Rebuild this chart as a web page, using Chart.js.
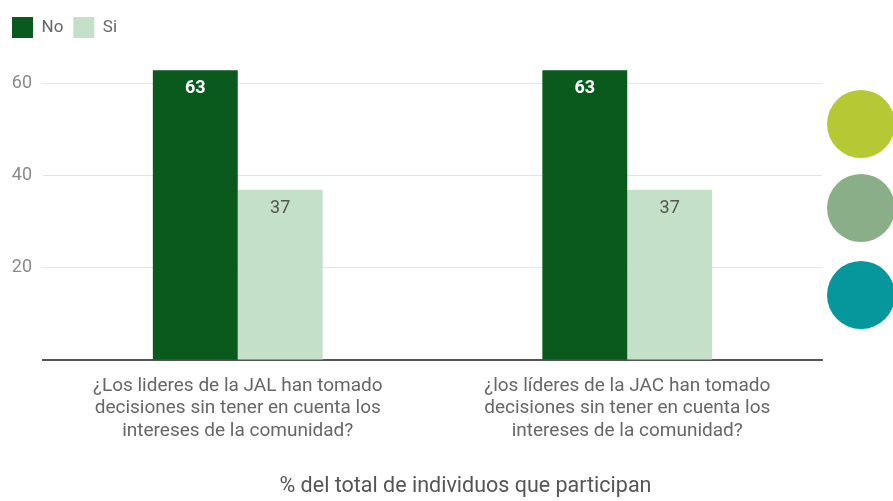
<!DOCTYPE html>
<html>
<head>
<meta charset="utf-8">
<script src="https://cdn.jsdelivr.net/npm/chart.js@4"></script>
<style>
  html, body { margin: 0; padding: 0; background: #fff; }
  #wrap { position: relative; width: 893px; height: 501px; overflow: hidden; }
  canvas { position: absolute; left: 0; top: 0; }
  .dot { position: absolute; width: 68px; height: 68px; border-radius: 50%; }
</style>
</head>
<body>
<div id="wrap">
  <canvas id="c" width="893" height="501"></canvas>
  <div class="dot" style="left:827px;top:90px;background:#b6c833;"></div>
  <div class="dot" style="left:827px;top:174px;background:#8aaf88;"></div>
  <div class="dot" style="left:827px;top:261px;background:#06979c;"></div>
</div>
<script>
const categories = [
  ["¿Los lideres de la JAL han tomado", "decisiones sin tener en cuenta los", "intereses de la comunidad?"],
  ["¿los líderes de la JAC han tomado", "decisiones sin tener en cuenta los", "intereses de la comunidad?"]
];
const seriesNames = ["No", "Si"];
const noValues = [63, 63];
const siValues = [37, 37];
const yTicks = [0, 20, 40, 60];
const axisTitle = "% del total de individuos que participan";

const labelPlugin = {
  id: 'barLabels',
  afterDatasetsDraw(chart) {
    const ctx = chart.ctx;
    chart.data.datasets.forEach((ds, di) => {
      const meta = chart.getDatasetMeta(di);
      meta.data.forEach((bar, i) => {
        ctx.save();
        ctx.textAlign = 'center';
        ctx.textBaseline = 'middle';
        if (di === 0) {
          ctx.fillStyle = '#ffffff';
          ctx.font = 'bold 18px Roboto';
          ctx.fillText(String(ds.data[i]), bar.x, bar.y + 18);
        } else {
          ctx.fillStyle = '#555555';
          ctx.font = '18px Roboto';
          ctx.fillText(String(ds.data[i]), bar.x, bar.y + 19);
        }
        ctx.restore();
      });
    });
  }
};

const legendSpace = {
  id: 'legendSpace',
  beforeInit(chart) {
    const orig = chart.legend.fit;
    chart.legend.fit = function() { orig.call(this); this.height = 54; };
  },
  afterLayout(chart) {
    const s = chart.scales.x;
    if (s && !s._titleShifted) {
      const orig = s.drawTitle;
      s.drawTitle = function(area) {
        const ctx = this.ctx;
        ctx.save();
        ctx.translate(33, 0);
        orig.call(this, area);
        ctx.restore();
      };
      s._titleShifted = true;
    }
  }
};

new Chart(document.getElementById('c'), {
  type: 'bar',
  data: {
    labels: categories,
    datasets: [
      { label: seriesNames[0], data: noValues, backgroundColor: '#0a5a1e', categoryPercentage: 0.436, barPercentage: 1.0 },
      { label: seriesNames[1], data: siValues, backgroundColor: '#c4e0c8', categoryPercentage: 0.436, barPercentage: 1.0 }
    ]
  },
  options: {
    responsive: false,
    animation: false,
    layout: { padding: { left: 2, right: 71, top: 7, bottom: 0 } },
    plugins: {
      legend: {
        position: 'top',
        align: 'start',
        labels: {
          boxWidth: 21, boxHeight: 21, padding: 10,
          color: '#666', font: { family: 'Roboto', size: 17 }
        }
      },
      tooltip: { enabled: false }
    },
    scales: {
      x: {
        grid: { display: false, drawTicks: false },
        border: { display: true, color: '#555', width: 2 },
        ticks: { color: '#666', font: { family: 'Roboto', size: 19, lineHeight: 1.18 }, padding: 15, maxRotation: 0, autoSkip: false },
        title: { display: true, text: axisTitle, color: '#555', font: { family: 'Roboto', size: 21.5 }, padding: { top: 17, bottom: 1 } }
      },
      y: {
        min: 0, max: 65,
        afterBuildTicks(scale) { scale.ticks = yTicks.map(v => ({ value: v })); },
        afterFit(scale) { scale.width = 41; },
        grid: { color: '#e3e3e3', drawTicks: false },
        border: { display: false },
        ticks: {
          color: '#8a8a8a', font: { family: 'Roboto', size: 18 }, padding: 11,
          callback: (v) => v === 0 ? '' : v
        }
      }
    }
  },
  plugins: [labelPlugin, legendSpace]
});
</script>
</body>
</html>
